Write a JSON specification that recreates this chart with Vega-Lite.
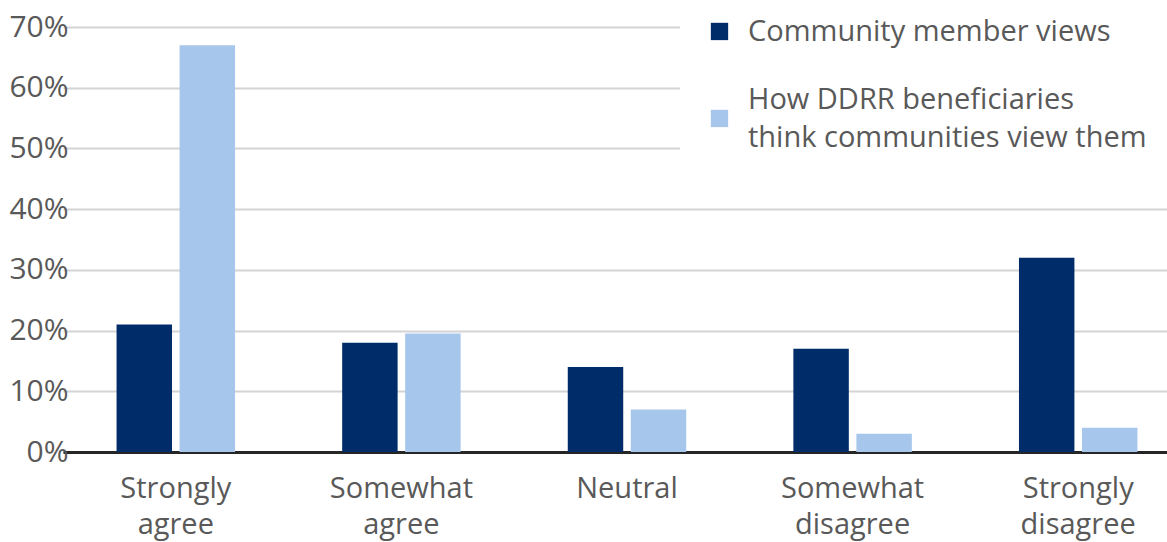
{
  "$schema": "https://vega.github.io/schema/vega-lite/v6.json",
  "width": 1070,
  "height": 425,
  "autosize": {"type": "none"},
  "padding": {"left": 97, "top": 27, "right": 0, "bottom": 90},
  "background": "white",
  "config": {
    "font": "Open Sans",
    "view": {"stroke": null},
    "axis": {"labelFont": "Open Sans", "labelColor": "#595959"}
  },
  "data": {
    "values": [
      {"response": "Strongly agree", "series": "Community member views", "value": 0.21},
      {"response": "Strongly agree", "series": "How DDRR beneficiaries think communities view them", "value": 0.67},
      {"response": "Somewhat agree", "series": "Community member views", "value": 0.18},
      {"response": "Somewhat agree", "series": "How DDRR beneficiaries think communities view them", "value": 0.195},
      {"response": "Neutral", "series": "Community member views", "value": 0.14},
      {"response": "Neutral", "series": "How DDRR beneficiaries think communities view them", "value": 0.07},
      {"response": "Somewhat disagree", "series": "Community member views", "value": 0.17},
      {"response": "Somewhat disagree", "series": "How DDRR beneficiaries think communities view them", "value": 0.03},
      {"response": "Strongly disagree", "series": "Community member views", "value": 0.32},
      {"response": "Strongly disagree", "series": "How DDRR beneficiaries think communities view them", "value": 0.04}
    ]
  },
  "mark": {"type": "bar"},
  "encoding": {
    "x": {
      "field": "response",
      "type": "nominal",
      "sort": ["Strongly agree", "Somewhat agree", "Neutral", "Somewhat disagree", "Strongly disagree"],
      "scale": {"range": [-34, 1094], "paddingInner": 0, "paddingOuter": 0},
      "axis": {
        "title": null,
        "labelAngle": 0,
        "labelExpr": "split(datum.label, ' ')",
        "labelFontSize": 29,
        "labelLineHeight": 36,
        "labelPadding": 36,
        "labelBaseline": "middle",
        "ticks": false,
        "domainColor": "#262626",
        "domainWidth": 3,
        "labelLimit": 300
      }
    },
    "xOffset": {
      "field": "series",
      "type": "nominal",
      "scale": {"paddingInner": 0.12, "paddingOuter": 0.85}
    },
    "y": {
      "field": "value",
      "type": "quantitative",
      "scale": {"domain": [0, 0.7], "nice": false},
      "axis": {
        "title": null,
        "format": ".0%",
        "values": [0, 0.1, 0.2, 0.3, 0.4, 0.5, 0.6, 0.7],
        "labelOverlap": false,
        "labelFontSize": 30,
        "labelPadding": 29,
        "ticks": false,
        "domain": false,
        "gridColor": "#d4d4d4",
        "gridWidth": 2
      }
    },
    "color": {
      "field": "series",
      "type": "nominal",
      "scale": {"range": ["#002D69", "#A7C6EC"]},
      "legend": {
        "title": null,
        "orient": "none",
        "legendX": 583,
        "legendY": -54,
        "padding": 25,
        "fillColor": "white",
        "symbolType": "M-1,1.19H1V3.19H-1Z",
        "symbolSize": 300,
        "symbolStrokeWidth": 0,
        "labelFont": "Open Sans",
        "labelFontSize": 29,
        "labelColor": "#595959",
        "labelOffset": 14,
        "labelLimit": 600,
        "rowPadding": 38,
        "labelExpr": "datum.label == 'How DDRR beneficiaries think communities view them' ? ['How DDRR beneficiaries', '\u200b', 'think communities view them'] : ['\u200b', datum.label]",
        "encoding": {
          "labels": {
            "lineHeight": {"value": 19}
          }
        }
      }
    }
  }
}
